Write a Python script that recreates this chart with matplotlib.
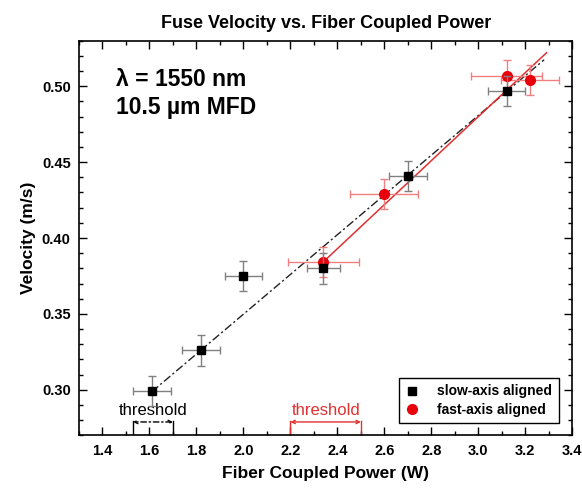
import matplotlib
matplotlib.use("Agg")
import matplotlib.pyplot as plt
from matplotlib.lines import Line2D
import numpy as np
from matplotlib.ticker import MultipleLocator

plt.rcParams['font.family'] = ['Liberation Sans', 'DejaVu Sans']

# slow-axis aligned (black squares)
slow_power = [1.61, 1.82, 2.00, 2.34, 2.70, 3.12]
slow_velocity = [0.299, 0.326, 0.375, 0.380, 0.441, 0.497]
slow_xerr = [0.08, 0.08, 0.08, 0.07, 0.08, 0.08]
slow_yerr = [0.010, 0.010, 0.010, 0.010, 0.010, 0.010]

# fast-axis aligned (red circles)
fast_power = [2.34, 2.60, 3.12, 3.22]
fast_velocity = [0.384, 0.429, 0.507, 0.504]
fast_xerr = [0.15, 0.145, 0.15, 0.125]
fast_yerr = [0.010, 0.010, 0.010, 0.010]

# linear fits (slope, intercept) and drawn range
slow_fit = (0.131, 0.0878)
slow_fit_range = [1.61, 3.28]
fast_fit = (0.145, 0.045)
fast_fit_range = [2.34, 3.29]

# fusing threshold ranges (W)
slow_threshold = [1.53, 1.70]
fast_threshold = [2.20, 2.50]

fig = plt.figure(figsize=(5.82, 4.93), dpi=100)
ax = fig.add_axes([0.1357, 0.117, 0.8477, 0.8004])

# Fit lines
xs = np.array(slow_fit_range)
ax.plot(xs, slow_fit[0] * xs + slow_fit[1], color='#222222', lw=1.0,
        dashes=(6, 2, 1.5, 2), zorder=2)
xf = np.array(fast_fit_range)
ax.plot(xf, fast_fit[0] * xf + fast_fit[1], color='#e03030', lw=1.1, zorder=2)

# Data with error bars
ax.errorbar(slow_power, slow_velocity, xerr=slow_xerr, yerr=slow_yerr,
            fmt='s', color='black', ms=6, ecolor='#808080', elinewidth=1,
            capsize=3, capthick=1, zorder=4)
ax.errorbar(fast_power, fast_velocity, xerr=fast_xerr, yerr=fast_yerr,
            fmt='o', color='#e8000b', ms=7, ecolor='#f08080', elinewidth=1,
            capsize=3, capthick=1, zorder=3)

# Threshold brackets
yb = 0.2788
for (lo, hi), col, ls in [(slow_threshold, 'black', (0, (4, 2, 1, 2))),
                          (fast_threshold, '#e03030', '-')]:
    ax.plot([lo, lo], [0.27, yb + 0.0008], color=col, lw=1)
    ax.plot([hi, hi], [0.27, yb + 0.0008], color=col, lw=1)
    ax.annotate('', xy=(lo, yb), xytext=(hi, yb),
                arrowprops=dict(arrowstyle='<->', color=col, lw=1,
                                linestyle=ls, shrinkA=0, shrinkB=0,
                                mutation_scale=6))
    ax.text((lo + hi) / 2, yb + 0.0025, 'threshold', color=col, fontsize=12,
            ha='center', va='bottom')

ax.text(0.075, 0.93, 'λ = 1550 nm\n10.5 µm MFD', transform=ax.transAxes,
        fontsize=16.5, fontweight='bold', va='top', ha='left', linespacing=1.25)

ax.set_xlim(1.3, 3.4)
ax.set_ylim(0.27, 0.53)
ax.xaxis.set_major_locator(MultipleLocator(0.2))
ax.xaxis.set_minor_locator(MultipleLocator(0.1))
ax.yaxis.set_major_locator(MultipleLocator(0.05))
ax.yaxis.set_minor_locator(MultipleLocator(0.01))
ax.xaxis.set_major_formatter(plt.FormatStrFormatter('%.1f'))
ax.yaxis.set_major_formatter(plt.FormatStrFormatter('%.2f'))
ax.tick_params(which='both', direction='in', top=True, right=True, width=1)
ax.tick_params(which='major', length=6, labelsize=10.5, pad=6)
ax.tick_params(which='minor', length=3)
for lab in ax.get_xticklabels() + ax.get_yticklabels():
    lab.set_fontweight('bold')
for sp in ax.spines.values():
    sp.set_linewidth(1.2)

ax.set_xlabel('Fiber Coupled Power (W)', fontsize=12.5, fontweight='bold', labelpad=6)
ax.set_ylabel('Velocity (m/s)', fontsize=12.5, fontweight='bold', labelpad=4)
ax.set_title('Fuse Velocity vs. Fiber Coupled Power', fontsize=13, fontweight='bold', pad=9)

handles = [Line2D([], [], marker='s', ls='none', color='black', ms=6),
           Line2D([], [], marker='o', ls='none', color='#e8000b', ms=7)]
leg = ax.legend(handles, ['slow-axis aligned', 'fast-axis aligned'],
                loc='lower right', bbox_to_anchor=(0.972, 0.03), fontsize=10,
                frameon=True, fancybox=False, edgecolor='black', framealpha=1,
                handletextpad=1.3, borderpad=0.45, labelspacing=0.35,
                handlelength=1.0, borderaxespad=0)
leg.get_frame().set_linewidth(1)
for t in leg.get_texts():
    t.set_fontweight('bold')

fig.savefig('out.png', dpi=100)
